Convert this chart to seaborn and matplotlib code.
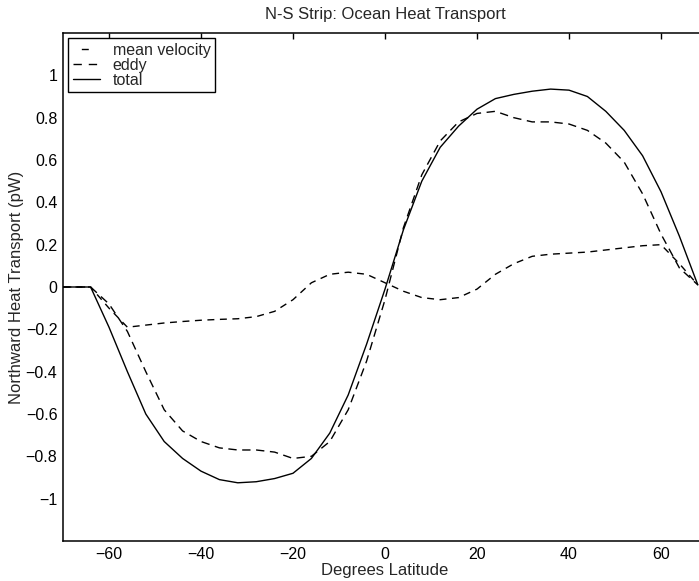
import matplotlib
matplotlib.use("Agg")
import matplotlib.pyplot as plt
from matplotlib.lines import Line2D
import seaborn as sns
import pandas as pd

lat = [-70, -68, -64, -60, -56, -52, -48, -44, -40, -36, -32, -28, -24, -20, -16, -12, -8, -4,
       0, 4, 8, 12, 16, 20, 24, 28, 32, 36, 40, 44, 48, 52, 56, 60, 64, 68]

mean_velocity = [0, 0, 0, -0.10, -0.19, -0.18, -0.17, -0.163, -0.157, -0.153, -0.15, -0.14, -0.115,
                 -0.06, 0.02, 0.06, 0.07, 0.06, 0.02, -0.02, -0.05, -0.06, -0.05, -0.01, 0.06,
                 0.11, 0.145, 0.155, 0.16, 0.165, 0.175, 0.185, 0.195, 0.20, 0.11, 0.01]

eddy = [0, 0, 0, -0.08, -0.21, -0.40, -0.58, -0.68, -0.73, -0.76, -0.77, -0.77, -0.78, -0.81,
        -0.80, -0.73, -0.58, -0.35, -0.06, 0.28, 0.53, 0.69, 0.78, 0.82, 0.83, 0.80, 0.78, 0.78,
        0.77, 0.74, 0.68, 0.59, 0.44, 0.25, 0.09, 0.01]

total = [0, 0, 0, -0.19, -0.40, -0.60, -0.73, -0.81, -0.87, -0.91, -0.925, -0.92, -0.905,
         -0.88, -0.81, -0.69, -0.51, -0.27, -0.01, 0.27, 0.50, 0.66, 0.76, 0.84, 0.89, 0.91,
         0.925, 0.935, 0.93, 0.90, 0.83, 0.74, 0.62, 0.45, 0.24, 0.01]

series_names = ["mean velocity", "eddy", "total"]
x_ticks = [-60, -40, -20, 0, 20, 40, 60]
y_ticks = [-1, -0.8, -0.6, -0.4, -0.2, 0, 0.2, 0.4, 0.6, 0.8, 1]
y_tick_labels = ["\u22121", "\u22120.8", "\u22120.6", "\u22120.4", "\u22120.2", "0",
                 "0.2", "0.4", "0.6", "0.8", "1"]
x_tick_labels = ["\u221260", "\u221240", "\u221220", "0", "20", "40", "60"]

df = pd.concat([
    pd.DataFrame({"lat": lat, "val": vals, "series": name})
    for name, vals in zip(series_names, [mean_velocity, eddy, total])
], ignore_index=True)

sns.set_theme(style="white")
plt.rcParams["font.family"] = ["Liberation Sans", "DejaVu Sans"]
plt.rcParams["lines.scale_dashes"] = False

fig = plt.figure(figsize=(6.99, 5.81), dpi=100)
ax = fig.add_axes([63 / 699, 40 / 581, (707 - 63) / 699, (541 - 33) / 581])

dash_map = {"mean velocity": (5, 4), "eddy": (6, 4), "total": ""}
sns.lineplot(data=df, x="lat", y="val", style="series", dashes=dash_map,
             color="black", linewidth=1.0, ax=ax, legend=False, sort=False,
             estimator=None)

ax.set_xlim(-70, 70)
ax.set_ylim(-1.2, 1.2)
ax.set_xticks(x_ticks)
ax.set_xticklabels(x_tick_labels)
ax.set_yticks(y_ticks)
ax.set_yticklabels(y_tick_labels)
ax.tick_params(direction="in", length=4, width=1, top=True, right=True,
               labelsize=11.5, colors="black", pad=4)
for sp in ax.spines.values():
    sp.set_color("black")
    sp.set_linewidth(1.1)

ax.set_xlabel("Degrees Latitude", fontsize=12, labelpad=1)
ax.set_ylabel("Northward Heat Transport (pW)", fontsize=12, labelpad=1)
ax.set_title("N-S Strip: Ocean Heat Transport", fontsize=12, pad=10)

handles = [
    Line2D([], [], color="black", lw=1.0, linestyle=(19, (5, 20))),
    Line2D([], [], color="black", lw=1.0, linestyle=(0, (6, 5))),
    Line2D([], [], color="black", lw=1.0, linestyle="-"),
]
leg = ax.legend(handles, series_names, loc="upper left", fontsize=11.5,
                frameon=True, fancybox=False, handlelength=1.7,
                handletextpad=0.8, labelspacing=0.0, borderpad=0.3,
                borderaxespad=0.3, framealpha=1)
leg.get_frame().set_edgecolor("black")
leg.get_frame().set_linewidth(1.0)

fig.savefig("out.png", dpi=100)
